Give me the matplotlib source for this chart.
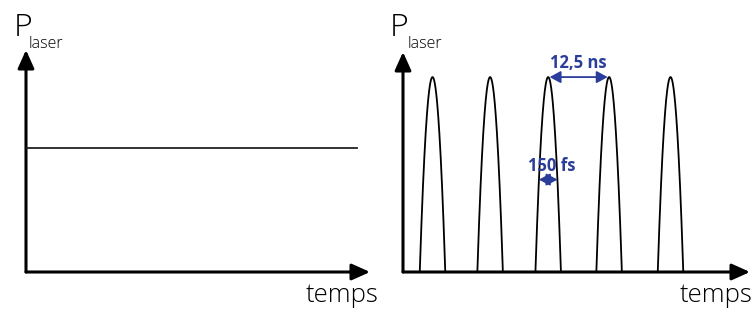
import numpy as np
import matplotlib.pyplot as plt
from matplotlib.patches import FancyArrowPatch

# data (schematic)
cw_level = 0.56                                 # continuous power, fraction of axis height
pulse_peaks_ns = [6.2, 18.3, 30.5, 43.3, 56.2]  # pulse centres (ns)
pulse_halfwidth_ns = 2.68                       # drawn half width at base (exaggerated)
pulse_height = 0.886
period_label = "12,5 ns"
width_label = "150 fs"
fs_arrow_height = 0.42

blue = '#2b3d9b'
font = ['Open Sans', 'DejaVu Sans']
W, H = 755, 309

fig = plt.figure(figsize=(W / 100, H / 100), dpi=100)


def px_axes(x0, x1, y_top, y_bot):
    return fig.add_axes([x0 / W, 1 - y_bot / H, (x1 - x0) / W, (y_bot - y_top) / H])


def draw_axes(ax, xmax, ymax):
    ax.set_xlim(0, xmax)
    ax.set_ylim(0, ymax)
    ax.axis('off')
    kw = dict(arrowstyle='-|>,head_length=1.0,head_width=0.45', mutation_scale=11,
              lw=2.2, color='black', shrinkA=0, shrinkB=0, clip_on=False)
    ax.add_patch(FancyArrowPatch((0, 0), (xmax, 0), **kw))
    ax.add_patch(FancyArrowPatch((0, 0), (0, ymax), **kw))


# left: continuous laser
ax1 = px_axes(26, 370, 50, 272)
draw_axes(ax1, 1, 1)
ax1.plot([0, 0.962], [cw_level, cw_level], color='#222222', lw=1.3)
fig.text(14 / W, 1 - 36 / H, 'P', fontsize=23, family=font, fontweight='light')
fig.text(29 / W, 1 - 48 / H, 'laser', fontsize=11.5, family=font, fontweight='light')
fig.text(378 / W, 1 - 302 / H, 'temps', fontsize=18.5, family=font,
         fontweight='light', ha='right')

# right: pulsed laser
ax2 = px_axes(403, 750, 52, 272)
xmax = 72.9
draw_axes(ax2, xmax, 1)
for c in pulse_peaks_ns:
    t = np.linspace(c - pulse_halfwidth_ns, c + pulse_halfwidth_ns, 200)
    p = pulse_height * (1 - ((t - c) / pulse_halfwidth_ns) ** 2)
    ax2.plot(t, p, color='black', lw=1.3, solid_capstyle='butt')

akw = dict(arrowstyle='<|-|>,head_length=0.55,head_width=0.3', mutation_scale=12,
           lw=1.3, color=blue, shrinkA=0, shrinkB=0)
c3, c4 = pulse_peaks_ns[2], pulse_peaks_ns[3]
ax2.add_patch(FancyArrowPatch((c3 + 0.3, pulse_height), (c4 - 0.3, pulse_height), **akw))
ax2.text((c3 + c4) / 2, pulse_height + 0.025, period_label, color=blue, fontsize=12,
         fontweight='bold', family=font, ha='center', va='bottom')
hw = pulse_halfwidth_ns * np.sqrt(1 - fs_arrow_height / pulse_height)
ax2.add_patch(FancyArrowPatch((c3 - hw, fs_arrow_height), (c3 + hw, fs_arrow_height), **akw))
ax2.text(c3 + 0.8, fs_arrow_height + 0.02, width_label, color=blue, fontsize=12,
         fontweight='bold', family=font, ha='center', va='bottom')

fig.text(390 / W, 1 - 36 / H, 'P', fontsize=23, family=font, fontweight='light')
fig.text(408 / W, 1 - 48 / H, 'laser', fontsize=11.5, family=font, fontweight='light')
fig.text(752 / W, 1 - 302 / H, 'temps', fontsize=18.5, family=font,
         fontweight='light', ha='right')

fig.savefig('out.png', dpi=100)
